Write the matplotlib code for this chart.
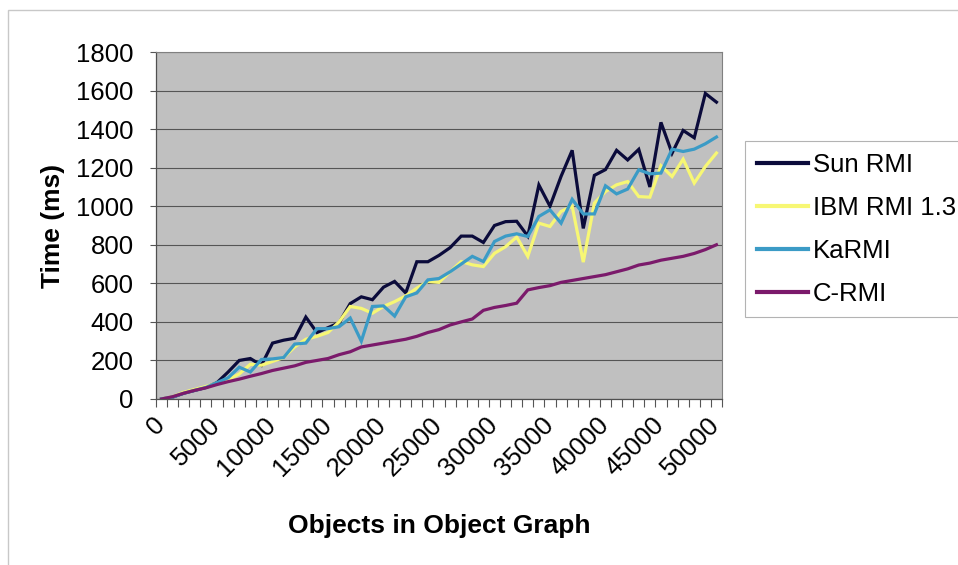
import numpy as np
import matplotlib
matplotlib.use("Agg")
import matplotlib.pyplot as plt
import matplotlib.transforms as mtransforms
from matplotlib.patches import Rectangle

plt.rcParams['font.family'] = ['Liberation Sans', 'DejaVu Sans']

objects = [0, 1000, 2000, 3000, 4000, 5000, 6000, 7000, 8000, 9000,
           10000, 11000, 12000, 13000, 14000, 15000, 16000, 17000, 18000, 19000,
           20000, 21000, 22000, 23000, 24000, 25000, 26000, 27000, 28000, 29000,
           30000, 31000, 32000, 33000, 34000, 35000, 36000, 37000, 38000, 39000,
           40000, 41000, 42000, 43000, 44000, 45000, 46000, 47000, 48000, 49000,
           50000]

sun_rmi = [0, 10, 30, 45, 60, 85, 140, 200, 210, 175,
           290, 305, 315, 425, 345, 370, 395, 495, 530, 515,
           580, 610, 550, 712, 712, 745, 785, 845, 845, 812,
           900, 920, 922, 845, 1110, 1000, 1155, 1290, 885, 1160,
           1190, 1290, 1240, 1295, 1100, 1435, 1275, 1393, 1355, 1585,
           1540]
ibm_rmi = [0, 12, 35, 50, 65, 82, 100, 130, 180, 175,
           195, 215, 270, 310, 325, 345, 400, 480, 470, 445,
           480, 505, 535, 575, 610, 605, 660, 713, 696, 687,
           756, 790, 840, 740, 912, 895, 973, 1000, 710, 1016,
           1076, 1111, 1128, 1050, 1047, 1210, 1154, 1244, 1120, 1206,
           1276]
karmi = [0, 10, 30, 45, 60, 85, 110, 165, 140, 205,
         208, 215, 285, 290, 365, 365, 375, 420, 300, 480,
         483, 430, 530, 550, 618, 625, 660, 700, 740, 713,
         817, 845, 857, 843, 947, 981, 912, 1036, 960, 960,
         1106, 1064, 1089, 1189, 1168, 1172, 1296, 1284, 1296, 1324,
         1359]
c_rmi = [0, 12, 30, 45, 58, 75, 90, 103, 118, 132,
         148, 160, 172, 190, 200, 210, 230, 245, 270, 280,
         290, 300, 310, 325, 345, 360, 384, 400, 415, 460,
         475, 485, 497, 566, 578, 588, 605, 615, 625, 635,
         645, 660, 675, 695, 705, 720, 730, 740, 755, 775,
         800]

series_names = ["Sun RMI", "IBM RMI 1.3", "KaRMI", "C-RMI"]
series_colors = ["#0b0b3b", "#f7f774", "#3b9bc6", "#7b1a6b"]

fs = 18.5

fig = plt.figure(figsize=(9.58, 5.65), dpi=100)
ax = fig.add_axes([156 / 958, 1 - 399 / 565, (722 - 156) / 958, (399 - 52) / 565])

# outer chart border
fig.patches.append(Rectangle((8 / 958, -0.1), 1.0, 1.1 - 10 / 565, transform=fig.transFigure,
                             fill=False, edgecolor="#c8c8c8", linewidth=1))

ax.set_facecolor("#c0c0c0")
x = np.arange(len(objects))
for vals, name, col in zip([sun_rmi, ibm_rmi, karmi, c_rmi], series_names, series_colors):
    ax.plot(x, vals, color=col, linewidth=2.3, label=name, solid_joinstyle="miter")

ax.set_xlim(-0.5, len(objects) - 0.5)
ax.set_ylim(0, 1800)
ax.set_yticks(np.arange(0, 1801, 200))
ax.yaxis.grid(True, color="#555555", linewidth=0.8)
ax.set_axisbelow(True)

# tick marks at category boundaries, labels at category centres
ax.set_xticks(np.arange(len(objects) + 1) - 0.5)
ax.set_xticklabels([])
ax.set_xticks(x[::5], [str(v) for v in objects[::5]], minor=True,
              rotation=45, ha="right", va="top", rotation_mode="anchor")
ax.tick_params(axis="x", which="major", length=6, color="#555555", direction="out")
ax.tick_params(axis="x", which="minor", length=0, pad=10, labelsize=fs)
ax.tick_params(axis="y", length=4, color="#555555", labelsize=fs, pad=12)
shift = mtransforms.ScaledTranslation(-9 / 100, 0, fig.dpi_scale_trans)
for lab in ax.xaxis.get_minorticklabels():
    lab.set_transform(lab.get_transform() + shift)

for s in ["top", "right"]:
    ax.spines[s].set_color("#808080")
    ax.spines[s].set_linewidth(0.8)
for s in ["left", "bottom"]:
    ax.spines[s].set_color("#505050")
    ax.spines[s].set_linewidth(0.9)

ax.set_ylabel("Time (ms)", fontsize=19, fontweight="bold", labelpad=8)
ax.set_xlabel("Objects in Object Graph", fontsize=19, fontweight="bold", labelpad=24)

handles, labels = ax.get_legend_handles_labels()
leg = fig.legend(handles, labels, loc="upper left", bbox_to_anchor=(745 / 958, 1 - 141 / 565),
                 fontsize=fs, frameon=True, fancybox=False, edgecolor="#a0a0a0",
                 handlelength=2.0, handletextpad=0.2, labelspacing=0.74, borderpad=0.45,
                 borderaxespad=0)
leg.get_frame().set_linewidth(0.8)
for line in leg.get_lines():
    line.set_linewidth(3)

fig.savefig("out.png", dpi=100)
